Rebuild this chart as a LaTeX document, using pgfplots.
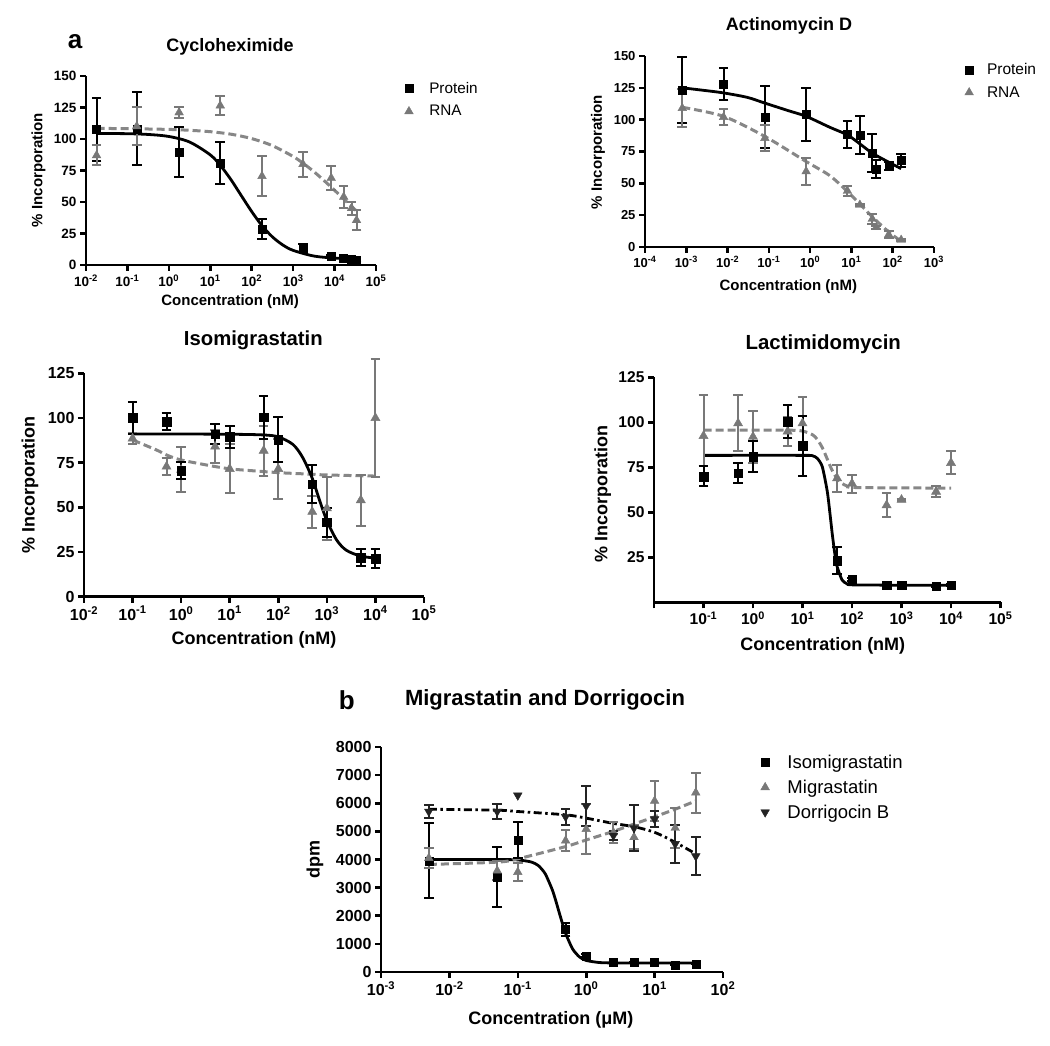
\documentclass[border=0pt]{standalone}
\usepackage{pgfplots}
\pgfplotsset{compat=1.18}
\usepackage{fontspec}
\setmainfont{Liberation Sans}
\setsansfont{Liberation Sans}
\definecolor{gr}{RGB}{120,120,120}
\definecolor{grl}{RGB}{135,135,135}
\definecolor{dk}{RGB}{35,35,35}
\newcommand{\tp}[1]{10\textsuperscript{#1}}
\newcommand{\fs}[1]{\fontsize{#1}{#1}\selectfont}

\pgfplotsset{
  myax/.style={
    scale only axis,
    axis x line*=bottom, axis y line*=left,
    axis line style={line width=2.6pt,-},
    every tick/.style={line width=2.6pt, black},
    major tick length=6pt, tick align=outside,
    xminorticks=false, yminorticks=false,
    /pgf/number format/assume math mode=true,
    /pgf/number format/1000 sep={},
    clip=false,
    legend cell align=left,
  },
  ebar/.style={error bars/y dir=both, error bars/y explicit,
    error bars/error bar style={line width=2pt, #1},
    error bars/error mark options={rotate=90, mark size=4.8pt, line width=2pt, #1}},
  protein/.style={only marks, mark=square*, black, mark size=4pt, ebar=black},
  rna/.style={only marks, mark=triangle*, gr, mark size=5pt, ebar=gr},
  dorr/.style={only marks, mark=triangle*, dk, mark size=5pt, mark options={rotate=180}, ebar=dk},
  fitP/.style={black, line width=2.8pt, smooth, no markers, forget plot},
  fitR/.style={grl, line width=3pt, dash pattern=on 8pt off 4pt, smooth, no markers, forget plot},
  fitD/.style={black, line width=2.8pt, dash pattern=on 8pt off 3.5pt on 2.5pt off 3.5pt, smooth, no markers, forget plot},
}

\begin{document}
\begin{tikzpicture}[x=1pt,y=1pt]
\useasboundingbox (0,0) rectangle (1050,1046);

% ---------------- Panel a1: Cycloheximide
\node[font=\bfseries\fs{26}] at (75,1004) {a};
\node[font=\bfseries\fs{18}] at (230,999) {Cycloheximide};
\begin{axis}[myax, xmode=log, at={(86pt,781pt)}, anchor=south west, width=290pt, height=189pt,
  xmin=1e-2, xmax=1e5, ymin=0, ymax=150, ytick={0,25,50,75,100,125,150},
  xtick={1e-2,1e-1,1,10,100,1000,1e4,1e5},
  xticklabels={\tp{-2},\tp{-1},\tp{0},\tp{1},\tp{2},\tp{3},\tp{4},\tp{5}},
  ticklabel style={font=\bfseries\fs{13.5}},
  xlabel={Concentration (nM)}, ylabel={\% Incorporation},
  label style={font=\bfseries\fs{15}},
  xlabel style={at={(axis description cs:0.497,-0.194)}, anchor=center},
  ylabel style={at={(axis description cs:-0.164,0.503)}, anchor=center},
  legend style={draw=none, fill=none, at={(axis description cs:1.098,0.974)}, anchor=north west,
    font=\fs{15.3}, inner sep=0pt, row sep=8.7pt, nodes={inner sep=1pt},
    /tikz/every odd column/.append style={column sep=15pt}},
]
\addplot[fitP] coordinates {(0.018,104.4) (0.1,104.2) (0.316,103.6) (1,102.0) (3.16,97.6) (10,87.4) (17.8,78.7) (31.6,67.7) (56.2,55.0) (100,42.4) (178,31.1) (316,22.3) (562,15.9) (1000,11.6) (3162,7.1) (10000,5.5) (33900,4.8)};
\addplot[fitR] coordinates {(0.018,108.4) (0.1,108.2) (1,107.6) (3.16,106.9) (10,105.8) (31.6,103.8) (100,100.3) (316,94.7) (1000,86.1) (1778,80.5) (3162,74.1) (5623,66.9) (10000,59.3) (17783,51.4) (33900,42.8)};
\addplot[protein] coordinates {
 (0.018,107.5) +- (0,25)
 (0.168,108) +- (0,29)
 (1.77,89.8) +- (0,20)
 (17.4,80.8) +- (0,16.5)
 (177,28.8) +- (0,8)
 (1730,13.5) +- (0,3)
 (8300,7) +- (0,1)
 (16600,5.2) +- (0,0.5)
 (25700,4.6) +- (0,0.5)
 (33900,3.8) +- (0,0.5)};
\addlegendentry{Protein}
\addplot[rna] coordinates {
 (0.018,87) +- (0,8)
 (0.168,110) +- (0,15)
 (1.77,121) +- (0,4.5)
 (17.4,126.5) +- (0,7.5)
 (177,70.5) +- (0,16)
 (1730,80) +- (0,10)
 (8300,69) +- (0,9.6)
 (16600,54) +- (0,8.5)
 (25700,45) +- (0,5.3)
 (33900,35.5) +- (0,8)};
\addlegendentry{RNA}
\end{axis}

% ---------------- Panel a2: Actinomycin D
\node[font=\bfseries\fs{18}] at (789,1020.6) {Actinomycin D};
\begin{axis}[myax, xmode=log, at={(645pt,799pt)}, anchor=south west, width=289pt, height=191pt,
  xmin=1e-4, xmax=1e3, ymin=0, ymax=150, ytick={0,25,50,75,100,125,150},
  xtick={1e-4,1e-3,1e-2,1e-1,1,10,100,1000},
  xticklabels={\tp{-4},\tp{-3},\tp{-2},\tp{-1},\tp{0},\tp{1},\tp{2},\tp{3}},
  ticklabel style={font=\bfseries\fs{13}},
  xlabel={Concentration (nM)}, ylabel={\% Incorporation},
  label style={font=\bfseries\fs{15}},
  xlabel style={at={(axis description cs:0.496,-0.208)}, anchor=center},
  ylabel style={at={(axis description cs:-0.163,0.497)}, anchor=center},
  legend style={draw=none, fill=none, at={(axis description cs:1.106,0.966)}, anchor=north west,
    font=\fs{15.5}, inner sep=0pt, row sep=8pt, nodes={inner sep=1pt},
    /tikz/every odd column/.append style={column sep=12.5pt}},
]
\addplot[fitP] coordinates {(0.0008,125) (0.003,122.8) (0.008,121) (0.03,117.5) (0.08,113) (0.3,107) (0.8,102.6) (3,94) (8,88) (16,81) (32,73.7) (80,66.6) (160,61.5)};
\addplot[fitR] coordinates {(0.0008,109.7) (0.008,102.6) (0.08,86.8) (0.8,67.1) (3,56) (8,43.5) (16,33.7) (32,23.7) (80,11.8) (160,4.5)};
\addplot[protein] coordinates {
 (0.0008,123) +- (0,26)
 (0.008,128) +- (0,12.5)
 (0.08,102) +- (0,24.6)
 (0.8,104) +- (0,21)
 (8,88.5) +- (0,10.7)
 (16,88) +- (0,14.7)
 (32,74) +- (0,15)
 (40,61) +- (0,7)
 (80,63.5) +- (0,3.2)
 (160,68) +- (0,4.8)};
\addlegendentry{Protein}
\addplot[rna] coordinates {
 (0.0008,109) +- (0,15)
 (0.008,102) +- (0,6.3)
 (0.08,85.5) +- (0,10.3)
 (0.8,59.3) +- (0,10.3)
 (8,44) +- (0,4.2)
 (16,33) +- (0,1)
 (32,22) +- (0,3.7)
 (40,15.5) +- (0,1)
 (80,9.7) +- (0,3)
 (160,5.5) +- (0,0.5)};
\addlegendentry{RNA}
\end{axis}

% ---------------- Panel a3: Isomigrastatin
\node[font=\bfseries\fs{20.3}] at (253.3,706) {Isomigrastatin};
\begin{axis}[myax, xmode=log, at={(84pt,449.3pt)}, anchor=south west, width=340pt, height=223.4pt,
  xmin=1e-2, xmax=1e5, ymin=0, ymax=125, ytick={0,25,50,75,100,125},
  xtick={1e-2,1e-1,1,10,100,1000,1e4,1e5},
  xticklabels={\tp{-2},\tp{-1},\tp{0},\tp{1},\tp{2},\tp{3},\tp{4},\tp{5}},
  ticklabel style={font=\bfseries\fs{16}},
  xlabel={Concentration (nM)}, ylabel={\% Incorporation},
  label style={font=\bfseries\fs{18}},
  xlabel style={at={(axis description cs:0.5,-0.194)}, anchor=center},
  ylabel style={at={(axis description cs:-0.159,0.5)}, anchor=center},
  error bars/error mark options={mark size=5.3pt},
]
\addplot[fitR] coordinates {(0.1,87.7) (0.316,82) (0.5,79.3) (1,76.5) (5,72.8) (10,71.5) (50,70) (100,69.4) (500,68.5) (1000,68.1) (10000,67.5)};
\addplot[fitP] coordinates {(0.1,91) (1,91) (10,90.9) (50,90.5) (100,89.4) (200,85.2) (316,78) (500,66.3) (700,54.3) (1000,42.6) (1585,31.8) (2512,26) (5000,22.7) (10000,21.6)};
\addplot[rna, mark size=5.3pt] coordinates {
 (0.1,88.5) +- (0,3)
 (0.5,72.8) +- (0,4.7)
 (1,71) +- (0,12.5)
 (5,84) +- (0,9)
 (10,71.5) +- (0,13.7)
 (50,81.7) +- (0,14)
 (100,71.5) +- (0,17)
 (500,47.5) +- (0,9)
 (1000,49.5) +- (0,17.7)
 (5000,54) +- (0,14.3)
 (10000,100) +- (0,33)};
\addplot[protein, mark size=4.3pt] coordinates {
 (0.1,100) +- (0,9)
 (0.5,98) +- (0,4.8)
 (1,70.5) +- (0,4.6)
 (5,91) +- (0,5.8)
 (10,89.5) +- (0,6.2)
 (50,100.4) +- (0,12)
 (100,88) +- (0,12.4)
 (500,63) +- (0,10.8)
 (1000,41.6) +- (0,8.1)
 (5000,21.8) +- (0,4.9)
 (10000,21.2) +- (0,5.4)};
\end{axis}

% ---------------- Panel a4: Lactimidomycin
\node[font=\bfseries\fs{20.4}] at (823.3,701.7) {Lactimidomycin};
\begin{axis}[myax, xmode=log, at={(654pt,443.7pt)}, anchor=south west, width=346.5pt, height=224.8pt,
  xmin=1e-2, xmax=1e5, ymin=0, ymax=125, ytick={25,50,75,100,125},
  xtick={1e-2,1e-1,1,10,100,1000,1e4,1e5},
  xticklabels={{},\tp{-1},\tp{0},\tp{1},\tp{2},\tp{3},\tp{4},\tp{5}},
  ticklabel style={font=\bfseries\fs{15.6}},
  xlabel={Concentration (nM)}, ylabel={\% Incorporation},
  label style={font=\bfseries\fs{18}},
  xlabel style={at={(axis description cs:0.487,-0.193)}, anchor=center},
  ylabel style={at={(axis description cs:-0.148,0.482)}, anchor=center},
  error bars/error mark options={mark size=5.3pt},
]
\addplot[fitR] coordinates {(0.1,95.8) (5,95.7) (10,95.2) (15.85,93.2) (19.95,90.5) (25.1,86) (31.6,79.7) (39.8,73.3) (50.1,68.8) (63.1,66.1) (79.4,64.7) (125.9,63.8) (10000,63.5)};
\addplot[fitP, tension=0.4] coordinates {(0.1,81.7) (10,81.7) (15.85,81.5) (19.95,80.0) (25.1,75.4) (31.6,61.8) (35.5,50.5) (39.8,38.3) (44.7,27.5) (50.1,19.8) (63.1,12.4) (79.4,10.3) (100,9.7) (1000,9.5) (10000,9.5)};
\addplot[rna, mark size=5.3pt] coordinates {
 (0.1,92.5) +- (0,23)
 (0.5,99.5) +- (0,15.5)
 (1,92) +- (0,14.5)
 (5,95) +- (0,8)
 (10,99.5) +- (0,14.6)
 (50,69) +- (0,7.5)
 (100,66) +- (0,5)
 (500,54) +- (0,6.6)
 (1000,57) +- (0,0.5)
 (5000,61.5) +- (0,3)
 (10000,77.5) +- (0,6.4)};
\addplot[protein, mark size=4.3pt] coordinates {
 (0.1,70) +- (0,5.6)
 (0.5,71.8) +- (0,5.6)
 (1,81) +- (0,8.7)
 (5,100.5) +- (0,9)
 (10,87) +- (0,16.5)
 (50,23) +- (0,7.5)
 (100,12.6) +- (0,1)
 (500,9.4) +- (0,0.5)
 (1000,9.4) +- (0,0.5)
 (5000,9) +- (0,0.5)
 (10000,9.4) +- (0,0.5)};
\end{axis}

% ---------------- Panel b
\node[font=\bfseries\fs{26}] at (346.7,346) {b};
\node[font=\bfseries\fs{22}] at (545,346) {Migrastatin and Dorrigocin};
\begin{axis}[myax, xmode=log, at={(381pt,74pt)}, anchor=south west, width=342pt, height=225pt,
  xmin=1e-3, xmax=1e2, ymin=0, ymax=8000, ytick={0,1000,...,8000},
  xtick={1e-3,1e-2,1e-1,1,10,100},
  xticklabels={\tp{-3},\tp{-2},\tp{-1},\tp{0},\tp{1},\tp{2}},
  ticklabel style={font=\bfseries\fs{16}},
  xlabel={Concentration (μM)}, ylabel={dpm},
  label style={font=\bfseries\fs{18}},
  xlabel style={at={(axis description cs:0.497,-0.213)}, anchor=center},
  ylabel style={at={(axis description cs:-0.193,0.498)}, anchor=center},
  error bars/error mark options={mark size=5.3pt},
  legend style={draw=none, fill=none, at={(axis description cs:1.11,0.97)}, anchor=north west,
    font=\fs{18.5}, inner sep=0pt, row sep=8pt, nodes={inner sep=1pt},
    /tikz/every odd column/.append style={column sep=17pt}},
]
\addplot[fitP, tension=0.4] coordinates {(0.005,4000) (0.05,4000) (0.1,3985) (0.158,3910) (0.2,3782) (0.251,3498) (0.316,2952) (0.355,2578) (0.398,2160) (0.447,1744) (0.501,1368) (0.631,824) (0.794,539) (1,410) (1.585,335) (3.16,321) (40,320)};
\addplot[fitR] coordinates {(0.005,3824) (0.05,3906) (0.1,4024) (0.5,4459) (1,4694) (2.5,5000) (5,5259) (10,5518) (20,5788) (40,6082)};
\addplot[fitD] coordinates {(0.005,5788) (0.05,5753) (0.1,5706) (0.5,5588) (1,5470) (2.5,5282) (5,5165) (10,4965) (20,4612) (40,4200)};
\addplot[protein, mark size=4pt] coordinates {
 (0.005,3950) +- (0,1335)
 (0.05,3370) +- (0,1070)
 (0.1,4694) +- (0,624)
 (0.5,1518) +- (0,235)
 (1,576) +- (0,60)
 (2.5,353) +- (0,30)
 (5,341) +- (0,20)
 (10,341) +- (0,20)
 (20,259) +- (0,20)
 (40,294) +- (0,20)};
\addlegendentry{Isomigrastatin}
\addplot[rna, mark size=5pt] coordinates {
 (0.005,4050) +- (0,370)
 (0.05,3600) +- (0,330)
 (0.1,3553) +- (0,330)
 (0.5,4670) +- (0,370)
 (1,5080) +- (0,880)
 (2.5,4960) +- (0,360)
 (5,4790) +- (0,430)
 (10,6082) +- (0,720)
 (20,5120) +- (0,700)
 (40,6376) +- (0,710)};
\addlegendentry{Migrastatin}
\addplot[dorr, mark size=5pt] coordinates {
 (0.005,5706) +- (0,230)
 (0.05,5706) +- (0,265)
 (0.5,5518) +- (0,280)
 (1,5906) +- (0,700)
 (2.5,4850) +- (0,150)
 (5,5118) +- (0,810)
 (10,5435) +- (0,290)
 (20,4553) +- (0,690)
 (40,4118) +- (0,665)};
\addlegendentry{Dorrigocin B}
\addplot[only marks, mark=triangle*, dk, mark size=5pt, mark options={rotate=180}, forget plot] coordinates {(0.1,6280)};
\end{axis}
\end{tikzpicture}
\end{document}
